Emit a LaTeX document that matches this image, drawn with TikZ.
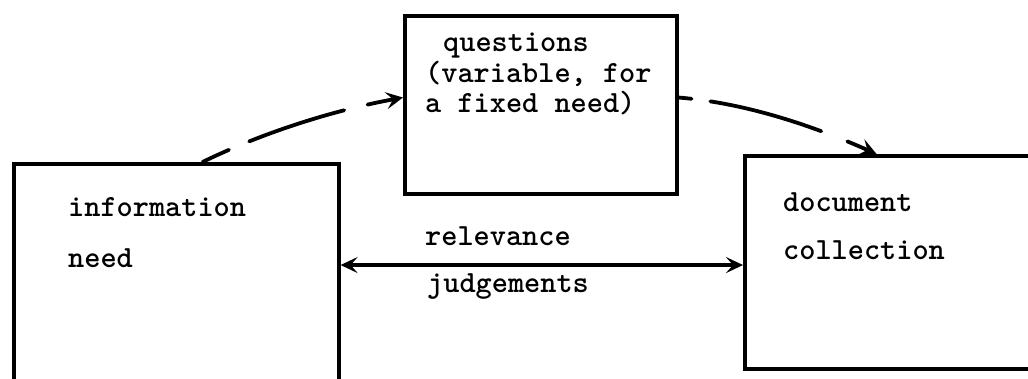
\documentclass[tikz,border=0pt]{standalone}
\usetikzlibrary{arrows.meta,calc}
\begin{document}
\begin{tikzpicture}[x=1pt,y=-1pt,
  box/.style={draw,line width=3.6pt,rectangle,inner sep=0pt,anchor=north west},
  lbl/.style={font=\fontsize{30.8}{30}\selectfont\ttfamily\bfseries,anchor=base west,inner sep=0pt},
  conn/.style={line width=3.8pt,line cap=round,-{Stealth[length=17pt,width=17pt,inset=7pt]}},
  dbl/.style={line width=3.6pt,{Stealth[length=17pt,width=16pt,inset=7pt]}-{Stealth[length=17pt,width=16pt,inset=7pt]}}]
\useasboundingbox[fill=white] (0,0) rectangle (1028,379);
% boxes
\node[box,minimum width=325pt,minimum height=240pt] (info) at (12,162) {};
\node[box,minimum width=272pt,minimum height=178pt] (quest) at (403,14) {};
\node[box,minimum width=302pt,minimum height=213pt] (coll) at (743,154) {};
% texts
\node[lbl] (t1) at (68,217) {information};
\node[lbl] (t2) at (68,268) {need};
\node[lbl] (t3) at (443,52) {questions};
\node[lbl] (t4) at (425,83) {(variable, for};
\node[lbl] (t5) at (425,113) {a fixed need)};
\node[lbl] (t6) at (783,212) {document};
\node[lbl] (t7) at (783,260) {collection};
\node[lbl] (t8) at (425,246) {relevance};
\node[lbl] (t9) at (427,293) {judgements};
% connector anchors
\coordinate (a1) at ($(info.north west)!0.58!(info.north east)$);
\coordinate (a2) at ($(quest.north west)!0.46!(quest.south west)$);
\coordinate (b1) at ($(quest.north east)!0.46!(quest.south east)$);
\coordinate (b2) at ($(coll.north west)!0.437!(coll.north east)$);
\coordinate (c1) at ($(info.north east)!0.423!(info.south east)$);
% connectors
\draw[conn,dash pattern=on 29pt off 22pt on 100pt off 24pt on 200pt]
  (a1) .. controls (264,132) and (335,110) .. (a2);
\draw[conn,dash pattern=on 13pt off 19pt on 115pt off 28pt on 200pt]
  (b1) .. controls (745,103) and (811,125) .. (b2);
\draw[dbl] (c1) -- (c1 -| coll.west);
\end{tikzpicture}
\end{document}
